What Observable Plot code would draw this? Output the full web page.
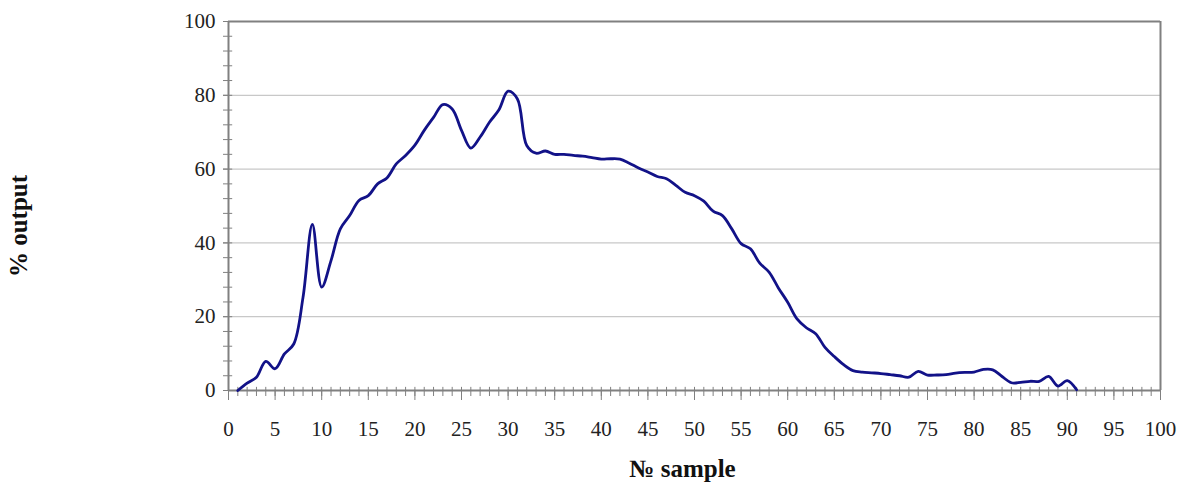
<!DOCTYPE html>
<html>
<head>
<meta charset="utf-8">
<script src="https://cdn.jsdelivr.net/npm/d3@7"></script>
<script src="https://cdn.jsdelivr.net/npm/@observablehq/plot@0.6"></script>
<style>
  html, body { margin: 0; padding: 0; background: #fff; }
  #chart svg { display: block; }
</style>
</head>
<body>
<div id="chart"></div>
<script>
const samples = [1,2,3,4,5,6,7,8,9,10,11,12,13,14,15,16,17,18,19,20,21,22,23,24,25,26,27,28,29,30,31,32,33,34,35,36,37,38,39,40,41,42,43,44,45,46,47,48,49,50,51,52,53,54,55,56,57,58,59,60,61,62,63,64,65,66,67,68,69,70,71,72,73,74,75,76,77,78,79,80,81,82,83,84,85,86,87,88,89,90,91];
const output = [0,2.0,3.6,7.9,5.9,9.9,12.6,25.3,45,28,35.2,43.8,47.4,51.5,52.8,56,57.6,61.4,63.7,66.5,70.5,74,77.5,76.3,70.5,65.7,68.7,72.7,76,81.1,79,66.4,64.3,64.9,64,64,63.7,63.5,63.1,62.7,62.8,62.7,61.6,60.3,59.2,58,57.4,55.6,53.7,52.8,51.3,48.6,47.4,43.8,39.8,38.4,34.5,32.1,27.8,23.9,19.4,17,15.4,11.7,9.2,7,5.4,5,4.8,4.6,4.3,4,3.6,5.2,4.2,4.2,4.3,4.7,4.9,5,5.7,5.6,3.8,2.1,2.2,2.5,2.5,3.8,1.2,2.7,0.2];
const xMajorTicks = [0,5,10,15,20,25,30,35,40,45,50,55,60,65,70,75,80,85,90,95,100];
const xMinorTicks = d3.range(0, 101, 1);
const yMajorTicks = [0,20,40,60,80,100];
const yMinorTicks = d3.range(0, 101, 4);
const gridValues = [20,40,60,80];
const xTitle = "№ sample";
const yTitle = "% output";

const data = samples.map((s, i) => ({sample: s, output: output[i]}));
const axisGray = "#808080";

const chart = Plot.plot({
  width: 1179,
  height: 488,
  marginLeft: 228,
  marginRight: 19,
  marginTop: 21,
  marginBottom: 98,
  style: {fontFamily: "'Liberation Serif', serif", fontSize: "21px", color: "#222", background: "#fff"},
  x: {domain: [0, 100]},
  y: {domain: [0, 100]},
  marks: [
    Plot.ruleY(gridValues, {stroke: "#c8c8c8", strokeWidth: 1.2}),
    Plot.ruleY([100], {stroke: axisGray, strokeWidth: 2}),
    Plot.ruleX([100], {stroke: axisGray, strokeWidth: 2}),
    Plot.axisX({ticks: xMinorTicks, tickSize: 6, tickFormat: () => "", stroke: axisGray, label: null}),
    Plot.axisX({ticks: xMajorTicks, tickSize: 10, tickPadding: 21, stroke: axisGray, label: null, tickFormat: d => d}),
    Plot.ruleX(xMinorTicks, {x: d => d, y1: 0, y2: 0.85, stroke: axisGray}),
    Plot.axisY({ticks: yMinorTicks, tickSize: 5, tickFormat: () => "", stroke: axisGray, label: null}),
    Plot.axisY({ticks: yMajorTicks, tickSize: 5, tickPadding: 8, stroke: axisGray, label: null, tickFormat: d => d}),
    Plot.ruleY(yMinorTicks, {y: d => d, x1: 0, x2: 0.45, stroke: axisGray}),
    Plot.ruleX([0], {stroke: axisGray, strokeWidth: 2}),
    Plot.ruleY([0], {stroke: axisGray, strokeWidth: 2}),
    Plot.line(data, {x: "sample", y: "output", curve: "catmull-rom", stroke: "#121288", strokeWidth: 2.8}),
    Plot.text([xTitle], {frameAnchor: "bottom", text: d => d, textAnchor: "middle", dx: -12, dy: 86, fontWeight: "bold", fontSize: 25, fill: "#111"}),
    Plot.text([yTitle], {frameAnchor: "left", text: d => d, textAnchor: "middle", rotate: -90, dx: -210, dy: 20, fontWeight: "bold", fontSize: 25, fill: "#111"})
  ]
});
document.getElementById("chart").appendChild(chart);
</script>
</body>
</html>
